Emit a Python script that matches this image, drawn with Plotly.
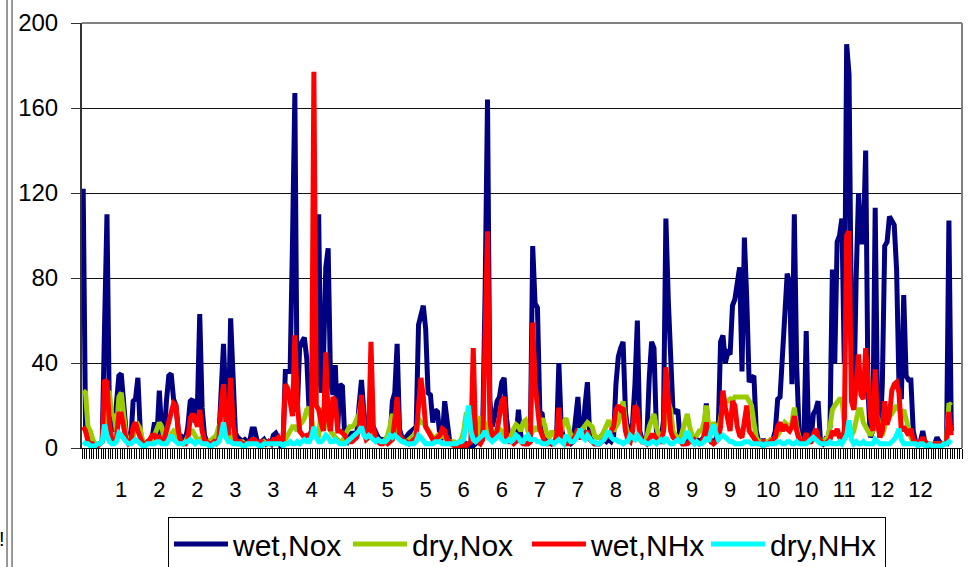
import plotly.graph_objects as go

# Daily deposition values for one (leap) year, 366 days.
wet_nox = [
    122, 8, 6, 5, 3, 2, 1, 2, 3, 58,
    110, 17, 10, 8, 25, 34, 35, 23, 8, 3,
    3, 22, 23, 33, 8, 2, 2, 3, 3, 5,
    12, 5, 27, 8, 4, 22, 34, 35, 23, 20,
    8, 3, 5, 4, 10, 22, 23, 12, 18, 63,
    19, 6, 3, 2, 2, 3, 3, 4, 26, 49,
    20, 8, 61, 33, 7, 5, 4, 3, 4, 3,
    3, 9, 9, 4, 2, 3, 4, 2, 3, 2,
    6, 7, 5, 1, 2, 36, 36, 36, 97, 167,
    17, 47, 50, 52, 42, 17, 33, 30, 30, 110,
    26, 40, 85, 94, 31, 25, 39, 9, 30, 29,
    4, 3, 6, 7, 7, 6, 20, 32, 17, 8,
    6, 12, 10, 7, 5, 4, 4, 3, 3, 4,
    22, 26, 49, 9, 5, 4, 6, 7, 8, 9,
    10, 58, 62, 67, 56, 26, 25, 12, 18, 17,
    5, 4, 22, 12, 4, 2, 2, 1, 1, 1,
    1, 2, 1, 1, 1, 2, 3, 2, 10, 74,
    164, 22, 10, 15, 22, 24, 31, 33, 14, 5,
    4, 3, 5, 18, 6, 3, 2, 2, 3, 95,
    68, 66, 17, 16, 5, 3, 3, 2, 3, 4,
    40, 10, 4, 3, 3, 2, 3, 12, 24, 6,
    5, 20, 31, 5, 3, 2, 2, 2, 3, 4,
    3, 4, 3, 5, 30, 43, 47, 50, 17, 8,
    4, 12, 30, 60, 8, 4, 3, 5, 33, 50,
    47, 8, 5, 4, 13, 108, 70, 40, 17, 17,
    18, 4, 2, 2, 3, 4, 4, 5, 4, 3,
    4, 5, 21, 6, 3, 3, 4, 8, 50, 53,
    40, 45, 44, 67, 70, 80, 85, 36, 99, 70,
    31, 33, 34, 8, 3, 2, 4, 2, 2, 3,
    4, 8, 23, 24, 45, 70, 82, 78, 30, 110,
    38, 8, 3, 2, 55, 4, 3, 16, 18, 22,
    3, 2, 4, 3, 10, 84, 40, 97, 100, 108,
    40, 190, 176, 58, 18, 80, 120, 97, 97, 140,
    26, 5, 8, 113, 16, 5, 30, 95, 97, 109,
    107, 105, 84, 30, 23, 72, 34, 32, 32, 8,
    3, 2, 3, 8, 2, 1, 1, 1, 2, 5,
    3, 2, 2, 2, 107, 8,
]

dry_nox = [
    27, 26, 10, 8, 4, 2, 2, 2, 3, 10,
    27, 26, 16, 15, 8, 24, 26, 14, 6, 3,
    3, 5, 10, 11, 9, 3, 2, 2, 3, 4,
    6, 10, 12, 10, 5, 3, 5, 6, 8, 7,
    4, 3, 2, 3, 5, 8, 8, 6, 4, 4,
    5, 3, 2, 3, 4, 5, 6, 10, 12, 9,
    8, 5, 6, 4, 3, 2, 3, 3, 2, 2,
    2, 2, 3, 2, 2, 2, 3, 2, 2, 2,
    2, 2, 3, 2, 2, 4, 5, 8, 10, 10,
    8, 11, 12, 14, 18, 19, 12, 8, 6, 5,
    18, 18, 17, 10, 8, 6, 5, 4, 3, 3,
    6, 8, 10, 10, 11, 14, 16, 22, 9, 5,
    5, 5, 4, 4, 3, 3, 3, 4, 6, 10,
    16, 12, 8, 5, 4, 3, 3, 4, 5, 6,
    8, 14, 12, 12, 10, 8, 6, 5, 5, 6,
    5, 6, 5, 4, 3, 3, 3, 2, 3, 4,
    8, 16, 17, 8, 6, 5, 7, 14, 14, 10,
    8, 6, 5, 6, 9, 9, 8, 6, 5, 5,
    6, 9, 11, 10, 8, 12, 13, 8, 6, 8,
    10, 8, 12, 14, 11, 6, 5, 8, 6, 5,
    6, 8, 12, 14, 10, 6, 5, 6, 8, 8,
    9, 11, 12, 11, 10, 6, 5, 5, 6, 8,
    10, 13, 10, 8, 10, 12, 16, 22, 12, 6,
    5, 4, 5, 6, 4, 3, 3, 5, 10, 14,
    16, 10, 6, 5, 8, 14, 22, 18, 8, 6,
    5, 4, 8, 12, 16, 10, 6, 5, 6, 8,
    8, 12, 20, 10, 8, 12, 10, 8, 14, 22,
    22, 22, 23, 22, 24, 24, 24, 24, 24, 24,
    22, 20, 12, 5, 3, 3, 2, 3, 3, 4,
    4, 5, 6, 8, 10, 12, 11, 8, 12, 19,
    10, 5, 3, 3, 4, 3, 3, 4, 5, 4,
    3, 3, 4, 5, 10, 18, 20, 22, 23, 23,
    12, 8, 7, 6, 8, 12, 18, 18, 12, 10,
    8, 6, 8, 14, 15, 8, 6, 10, 14, 15,
    16, 18, 20, 18, 16, 18, 14, 8, 5, 3,
    2, 2, 2, 3, 3, 2, 2, 1, 2, 2,
    2, 2, 2, 3, 21, 20,
]

wet_nhx = [
    10, 8, 3, 2, 2, 1, 1, 2, 3, 32,
    31, 12, 4, 3, 5, 16, 16, 10, 4, 2,
    3, 10, 12, 8, 5, 2, 2, 3, 4, 6,
    6, 4, 5, 3, 4, 8, 12, 17, 21, 20,
    8, 3, 2, 2, 4, 14, 16, 14, 10, 18,
    8, 4, 3, 2, 2, 3, 2, 3, 20, 30,
    12, 6, 33, 12, 4, 3, 3, 2, 2, 2,
    3, 4, 4, 3, 2, 3, 2, 2, 3, 2,
    4, 4, 5, 2, 2, 30, 28, 22, 15, 53,
    22, 8, 6, 5, 6, 6, 8, 177, 20, 18,
    12, 8, 45, 14, 8, 24, 22, 8, 8, 7,
    6, 4, 3, 3, 4, 5, 9, 25, 8, 4,
    5, 50, 10, 4, 3, 2, 2, 3, 2, 3,
    4, 13, 24, 6, 4, 3, 3, 2, 3, 4,
    5, 20, 33, 24, 10, 8, 6, 4, 4, 5,
    6, 9, 8, 4, 3, 2, 1, 1, 1, 1,
    2, 1, 2, 3, 47, 5, 3, 2, 4, 68,
    102, 12, 6, 4, 8, 15, 22, 24, 5, 3,
    3, 2, 3, 4, 3, 2, 2, 2, 3, 59,
    30, 17, 9, 6, 3, 2, 2, 2, 3, 5,
    19, 5, 3, 2, 2, 3, 4, 6, 9, 5,
    5, 6, 8, 4, 3, 2, 2, 2, 3, 4,
    5, 6, 8, 10, 18, 20, 18, 19, 8, 4,
    3, 8, 20, 18, 6, 3, 3, 2, 4, 6,
    6, 4, 3, 3, 8, 38, 22, 8, 5, 4,
    4, 3, 2, 2, 2, 3, 3, 4, 3, 2,
    3, 5, 12, 5, 3, 2, 3, 4, 10, 27,
    19, 12, 8, 22, 20, 10, 6, 5, 12, 20,
    8, 6, 4, 3, 2, 2, 3, 2, 2, 3,
    4, 5, 10, 12, 8, 11, 9, 8, 10, 15,
    8, 4, 3, 3, 7, 3, 3, 6, 9, 5,
    3, 2, 2, 3, 4, 8, 6, 9, 5, 4,
    8, 100, 102, 22, 18, 30, 44, 25, 23, 47,
    30, 15, 8, 37, 12, 5, 8, 22, 11, 15,
    27, 30, 31, 26, 8, 10, 8, 6, 9, 4,
    3, 2, 3, 5, 3, 2, 2, 1, 2, 2,
    2, 2, 2, 3, 17, 6,
]

dry_nhx = [
    3, 2, 2, 1, 1, 1, 2, 2, 3, 11,
    6, 3, 2, 2, 3, 7, 6, 4, 3, 2,
    2, 3, 4, 3, 2, 1, 1, 2, 2, 2,
    2, 3, 3, 2, 2, 2, 4, 6, 4, 3,
    2, 2, 2, 3, 3, 4, 3, 2, 3, 3,
    2, 2, 2, 1, 1, 2, 2, 3, 6, 12,
    5, 3, 3, 2, 2, 2, 2, 1, 1, 2,
    2, 2, 2, 2, 1, 1, 2, 2, 2, 2,
    2, 2, 2, 2, 1, 2, 2, 3, 2, 2,
    3, 2, 3, 4, 3, 3, 5, 10, 5, 3,
    3, 4, 6, 5, 3, 3, 4, 3, 2, 2,
    2, 3, 4, 5, 6, 7, 8, 10, 6, 5,
    6, 5, 4, 3, 4, 3, 3, 3, 4, 6,
    5, 6, 5, 4, 3, 3, 2, 2, 2, 2,
    3, 6, 5, 3, 2, 2, 2, 2, 3, 3,
    3, 2, 2, 2, 2, 2, 2, 2, 3, 3,
    4, 12, 20, 8, 4, 3, 4, 5, 6, 8,
    5, 4, 3, 4, 5, 6, 4, 3, 3, 4,
    3, 4, 6, 5, 3, 3, 5, 6, 4, 4,
    4, 3, 3, 2, 2, 2, 3, 3, 2, 3,
    4, 3, 2, 6, 4, 3, 3, 4, 6, 9,
    5, 4, 6, 4, 3, 3, 2, 2, 3, 4,
    6, 8, 5, 4, 4, 3, 3, 2, 3, 3,
    6, 5, 4, 6, 4, 3, 3, 2, 2, 3,
    3, 2, 3, 4, 3, 5, 3, 2, 2, 3,
    4, 3, 3, 5, 8, 5, 3, 2, 3, 2,
    2, 3, 5, 3, 8, 11, 7, 4, 5, 6,
    5, 4, 3, 3, 2, 2, 2, 2, 3, 3,
    3, 2, 2, 2, 2, 2, 1, 2, 2, 2,
    2, 2, 3, 3, 2, 2, 3, 3, 2, 2,
    3, 2, 2, 2, 2, 3, 4, 5, 4, 3,
    2, 2, 2, 2, 3, 2, 2, 2, 3, 2,
    4, 6, 13, 4, 2, 3, 2, 2, 3, 2,
    2, 2, 2, 4, 3, 2, 2, 2, 2, 2,
    3, 4, 6, 9, 4, 2, 2, 2, 2, 2,
    2, 1, 2, 2, 1, 1, 2, 1, 1, 1,
    1, 1, 2, 2, 3, 2,
]

series_names = ["wet,Nox", "dry,Nox", "wet,NHx", "dry,NHx"]
series_colors = ["#000080", "#99CC00", "#FF0000", "#00FFFF"]

# Category axis: one slot per row of the sheet (a few trailing rows are empty);
# every 16th category carries its month number as a label.
n_categories = 370
label_interval = 16
month_labels = ["1", "2", "2", "3", "3", "4", "4", "5", "5", "6", "6",
                "7", "7", "8", "8", "9", "9", "10", "10", "11", "12", "12"]
label_days = [label_interval * (i + 1) for i in range(len(month_labels))]

days = list(range(len(wet_nox)))
FONT = "Liberation Sans, Arial, sans-serif"

fig = go.Figure()
for name, color, values in zip(series_names, series_colors,
                               [wet_nox, dry_nox, wet_nhx, dry_nhx]):
    fig.add_trace(go.Scatter(
        x=days, y=values, mode="lines", name=name,
        line=dict(color=color, width=5),
    ))

fig.update_layout(
    width=974, height=567,
    margin=dict(l=82, r=12, t=23, b=119, autoexpand=False),
    paper_bgcolor="white", plot_bgcolor="white",
    font=dict(family=FONT, color="black"),
    showlegend=True,
    legend=dict(
        orientation="h", x=0.0977, y=-0.1624, xanchor="left", yanchor="top",
        bordercolor="black", borderwidth=1, bgcolor="white",
        font=dict(family=FONT, size=30, color="black"),
        itemwidth=54, tracegroupgap=0,
        entrywidth=110, entrywidthmode="pixels",
    ),
    xaxis=dict(
        range=[-0.5, n_categories - 0.5], showgrid=False, zeroline=False,
        showline=True, linecolor="black", linewidth=1,
        tickmode="array", tickvals=label_days, ticktext=month_labels,
        ticks="", tickfont=dict(family=FONT, size=22, color="black"),
        ticklabelstandoff=22,
        minor=dict(ticks="outside", ticklen=10, tickwidth=1.2, tickcolor="black",
                   tick0=-0.5, dtick=1, showgrid=False),
    ),
    yaxis=dict(
        range=[0, 200], tick0=0, dtick=40, showgrid=True, gridcolor="#111111",
        gridwidth=1, zeroline=False, showline=True, linecolor="#333333",
        linewidth=2, ticks="outside", ticklen=9, tickcolor="#333333",
        tickfont=dict(family=FONT, size=24, color="black"),
        ticklabelstandoff=8,
    ),
    shapes=[
        # plot-area frame on the top and right
        dict(type="line", xref="paper", yref="paper", x0=0, x1=1, y0=1, y1=1,
             line=dict(color="#808080", width=2), layer="above"),
        dict(type="line", xref="paper", yref="paper", x0=1, x1=1, y0=0, y1=1,
             line=dict(color="#808080", width=2), layer="above"),
        # double rule along the left edge of the chart
        dict(type="line", xref="paper", yref="paper", x0=-0.0852, x1=-0.0852,
             y0=-0.3, y1=1.06, line=dict(color="#333333", width=1)),
        dict(type="line", xref="paper", yref="paper", x0=-0.0795, x1=-0.0795,
             y0=-0.3, y1=1.06, line=dict(color="#333333", width=1)),
    ],
    annotations=[
        dict(text="!", xref="paper", yref="paper", x=-0.091, y=-0.215,
             showarrow=False, xanchor="center", yanchor="middle",
             font=dict(family=FONT, size=20, color="black")),
    ],
)

fig.write_html("out.html")
